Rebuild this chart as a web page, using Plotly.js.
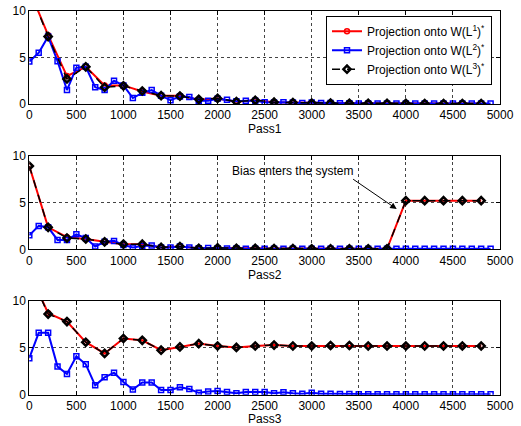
<!DOCTYPE html>
<html>
<head>
<meta charset="utf-8">
<script src="https://cdn.plot.ly/plotly-3.0.1.min.js"></script>
<style>html,body{margin:0;padding:0;background:#fff;}#chart{width:521px;height:426px;}</style>
</head>
<body>
<div id="chart"></div>
<script>
// x positions
const xCoarse = [0,200,400,600,800,1000,1200,1400,1600,1800,2000,2200,2400,2600,2800,3000,3200,3400,3600,3800,4000,4200,4400,4600,4800];
const xFine = [0,100,200,300,400,500,600,700,800,900,1000,1100,1200,1300,1400,1500,1600,1700,1800,1900,2000,2100,2200,2300,2400,2500,2600,2700,2800,2900,3000,3100,3200,3300,3400,3500,3600,3700,3800,3900,4000,4100,4200,4300,4400,4500,4600,4700,4800,4900];

// Pass1
const p1L1 = [12.3,7.4,3.0,4.0,2.0,2.0,1.35,0.9,0.9,0.45,0.6,0.25,0.4,0.2,0.15,0.1,0.1,0.08,0.08,0.06,0.06,0.05,0.05,0.05,0.05];
const p1L2 = [4.57,5.5,7.25,4.6,1.5,3.9,4.0,1.8,1.5,2.5,2.0,0.64,1.2,1.5,0.9,0.4,0.8,0.75,0.35,0.35,0.57,0.45,0.3,0.35,0.35,0.2,0.15,0.2,0.15,0.1,0.15,0.1,0.1,0.08,0.08,0.05,0.05,0.05,0.05,0.05,0.05,0.05,0.05,0.05,0.05,0.05,0.05,0.05,0.05,0.05];
const p1L3 = [12.3,7.25,2.7,4.0,1.8,1.95,1.4,0.9,0.85,0.5,0.6,0.25,0.4,0.2,0.15,0.1,0.1,0.08,0.08,0.06,0.06,0.05,0.05,0.05,0.05];

// Pass2
const p2L1 = [8.9,2.35,1.3,1.1,0.8,0.55,0.55,0.2,0.3,0.1,0.15,0.1,0.1,0.08,0.08,0.06,0.06,0.05,0.05,0.05,5.2,5.2,5.2,5.2,5.2];
const p2L2 = [1.5,2.5,2.35,1.0,1.0,1.6,1.2,0.3,0.8,0.9,0.45,0.2,0.35,0.4,0.2,0.2,0.3,0.2,0.1,0.15,0.1,0.08,0.08,0.06,0.06,0.05,0.05,0.05,0.05,0.05,0.05,0.05,0.05,0.05,0.05,0.05,0.05,0.05,0.05,0.05,0.05,0.05,0.05,0.05,0.05,0.05,0.05,0.05,0.05,0.05];
const p2L3 = [8.9,2.35,1.2,1.1,0.8,0.55,0.55,0.2,0.3,0.1,0.15,0.1,0.1,0.08,0.08,0.06,0.06,0.05,0.05,0.05,5.2,5.2,5.2,5.2,5.2];

// Pass3
const p3L1 = [13.1,8.7,7.8,5.6,4.4,6.0,5.8,4.75,5.1,5.45,5.2,5.05,5.2,5.3,5.2,5.2,5.25,5.25,5.2,5.2,5.2,5.2,5.2,5.2,5.2];
const p3L2 = [3.9,6.6,6.6,3.0,2.2,4.1,3.25,1.0,1.85,2.35,1.35,0.55,1.3,1.3,0.5,0.5,0.8,0.6,0.2,0.35,0.4,0.3,0.15,0.3,0.3,0.3,0.15,0.25,0.15,0.1,0.2,0.1,0.1,0.08,0.08,0.05,0.05,0.05,0.05,0.05,0.05,0.05,0.05,0.05,0.05,0.05,0.05,0.05,0.05,0.05];
const p3L3 = [13.1,8.6,7.8,5.6,4.4,6.0,5.8,4.75,5.1,5.45,5.2,5.05,5.2,5.3,5.2,5.2,5.25,5.25,5.2,5.2,5.2,5.2,5.2,5.2,5.2];

const names = ['Projection onto W(L<sup>1</sup>)<sup>*</sup>','Projection onto W(L<sup>2</sup>)<sup>*</sup>','Projection onto W(L<sup>3</sup>)<sup>*</sup>'];
const passTitles = ['Pass1','Pass2','Pass3'];
const annText = 'Bias enters the system';

const passes = [[p1L1,p1L2,p1L3],[p2L1,p2L2,p2L3],[p3L1,p3L2,p3L3]];
const traces = [];
passes.forEach((p,i)=>{
  const xa = i===0?'x':'x'+(i+1);
  const ya = i===0?'y':'y'+(i+1);
  traces.push({x:xCoarse,y:p[0],xaxis:xa,yaxis:ya,type:'scatter',mode:'lines+markers',name:names[0],showlegend:i===0,
    line:{color:'#ff0000',width:2},marker:{symbol:'circle-open',size:5,color:'#ff0000',line:{width:1.5,color:'#ff0000'}}});
  traces.push({x:xFine,y:p[1],xaxis:xa,yaxis:ya,type:'scatter',mode:'lines+markers',name:names[1],showlegend:i===0,
    line:{color:'#0000ff',width:2},marker:{symbol:'square-open',size:5,color:'#0000ff',line:{width:1.5,color:'#0000ff'}}});
  traces.push({x:xCoarse,y:p[2],xaxis:xa,yaxis:ya,type:'scatter',mode:'lines+markers',name:names[2],showlegend:i===0,
    line:{color:'#000000',width:1.5,dash:'8px,7px'},marker:{symbol:'diamond-open',size:5.5,color:'#000000',line:{width:2.5,color:'#000000'}}});
});

const xDom = [29.3/521, 500/521];
const yDoms = [[1-104/426,1-11/426],[1-249.3/426,1-155.7/426],[1-394.7/426,1-301/426]];
const fontFam = '"Liberation Sans", Arial, Helvetica, sans-serif';
const layout = {
  width:521,height:426,
  margin:{l:0,r:0,t:0,b:0},
  paper_bgcolor:'#fff',plot_bgcolor:'#fff',
  font:{family:fontFam,size:12,color:'#000'},
  showlegend:true,
  legend:{x:326/521,y:1-15.7/426,xanchor:'left',yanchor:'top',bgcolor:'#fff',bordercolor:'#000',borderwidth:1,
    font:{family:fontFam,size:12,color:'#000'},tracegroupgap:0},
  annotations:[
    {x:3903,y:4.3,ax:3424,ay:7.6,xref:'x2',yref:'y2',axref:'x2',ayref:'y2',text:'',showarrow:true,arrowhead:2,arrowsize:1.3,arrowwidth:1,arrowcolor:'#000'},
    {x:230/521,y:1-171/426,xref:'paper',yref:'paper',xanchor:'left',yanchor:'middle',text:annText,showarrow:false,font:{family:fontFam,size:12,color:'#000'}}
  ]
};
for(let i=0;i<3;i++){
  const sx = i===0?'':String(i+1);
  layout['xaxis'+sx] = {domain:xDom,anchor:'y'+sx,range:[0,5000],tick0:0,dtick:500,ticks:'inside',ticklen:4,tickcolor:'#000',
    showline:true,linecolor:'#000',linewidth:1,mirror:'ticks',showgrid:true,gridcolor:'#444',griddash:'dot',gridwidth:1,zeroline:false,
    tickfont:{family:fontFam,size:12,color:'#000'},
    title:{text:passTitles[i],font:{family:fontFam,size:12,color:'#000'},standoff:1}};
  layout['yaxis'+sx] = {domain:yDoms[i],anchor:'x'+sx,range:[0,10],tick0:0,dtick:5,ticks:'inside',ticklen:4,tickcolor:'#000',
    showline:true,linecolor:'#000',linewidth:1,mirror:'ticks',showgrid:true,gridcolor:'#444',griddash:'dot',gridwidth:1,zeroline:false,
    tickfont:{family:fontFam,size:12,color:'#000'}};
}
Plotly.newPlot('chart',traces,layout,{displayModeBar:false,staticPlot:true});
</script>
</body>
</html>
